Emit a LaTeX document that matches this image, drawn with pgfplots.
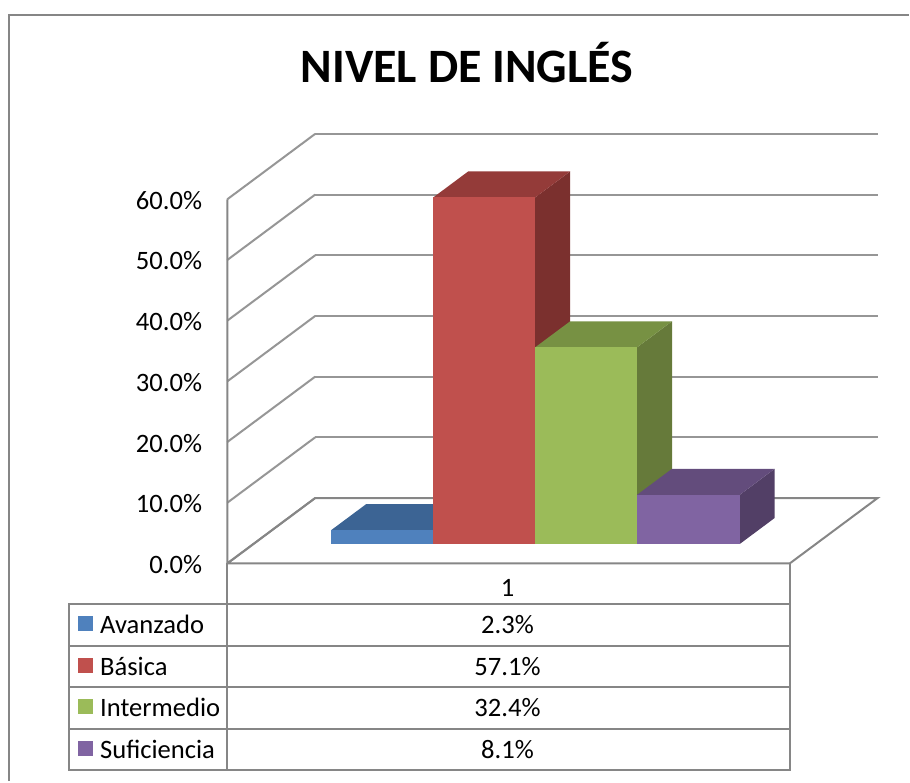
\documentclass[border=0pt]{standalone}
\usepackage{fontspec}
\setmainfont{Carlito}
\usepackage{pgfplots}
\pgfplotsset{compat=1.18}

\definecolor{frameline}{HTML}{868686}
\definecolor{gridline}{HTML}{969696}
\definecolor{azul}{HTML}{4F81BD}
\definecolor{azultop}{HTML}{3C6494}
\definecolor{azulside}{HTML}{30507A}
\definecolor{rojo}{HTML}{C0504D}
\definecolor{rojotop}{HTML}{943B39}
\definecolor{rojoside}{HTML}{7B302E}
\definecolor{verde}{HTML}{9BBB59}
\definecolor{verdetop}{HTML}{779143}
\definecolor{verdeside}{HTML}{667A3A}
\definecolor{morado}{HTML}{8064A2}
\definecolor{moradotop}{HTML}{634C7C}
\definecolor{moradoside}{HTML}{523F66}

\begin{document}
\begin{tikzpicture}
\begin{scope}[x=1pt,y=-1pt]
  \path[use as bounding box] (0,0) rectangle (910,782);
\end{scope}

\begin{axis}[
    at={(227.5pt,-564pt)},
    anchor=origin,
    disabledatascaling,
    x={(1pt,0pt)},
    y={(88pt,65.5pt)},
    z={(0pt,6.075pt)},
    xmin=0, xmax=563,
    ymin=0, ymax=1,
    zmin=0, zmax=60,
    xtick=\empty,
    ytick=\empty,
    ztick={0,10,20,30,40,50,60},
    zticklabel={\pgfmathprintnumber[fixed,fixed zerofill,precision=1,assume math mode=true]{\tick}\%},
    z tick label style={font=\fontsize{26.6}{29}\selectfont,anchor=east,inner sep=0pt,xshift=-25pt,yshift=-1pt},
    major tick length=0pt,
    zmajorgrids=true,
    grid style={gridline,line width=2pt},
    axis line style={draw=none},
    clip=false,
]
  % floor and front wall edges, the back wall has no upright edge
  \addplot3[frameline,line width=2pt] coordinates {(0,0,60) (0,0,0) (563,0,0) (563,1,0) (0,1,0) (0,0,0)};

  % Avanzado 2.3
  \addplot3[fill=azulside,draw=none] coordinates {(180,0.298,0) (180,0.695,0) (180,0.695,2.3) (180,0.298,2.3)} -- cycle;
  \addplot3[fill=azultop,draw=none] coordinates {(78,0.298,2.3) (180,0.298,2.3) (180,0.695,2.3) (78,0.695,2.3)} -- cycle;
  \addplot3[fill=azul,draw=none] coordinates {(78,0.298,0) (180,0.298,0) (180,0.298,2.3) (78,0.298,2.3)} -- cycle;

  % Basica 57.1
  \addplot3[fill=rojoside,draw=none] coordinates {(282,0.298,0) (282,0.695,0) (282,0.695,57.1) (282,0.298,57.1)} -- cycle;
  \addplot3[fill=rojotop,draw=none] coordinates {(180,0.298,57.1) (282,0.298,57.1) (282,0.695,57.1) (180,0.695,57.1)} -- cycle;
  \addplot3[fill=rojo,draw=none] coordinates {(180,0.298,0) (282,0.298,0) (282,0.298,57.1) (180,0.298,57.1)} -- cycle;

  % Intermedio 32.4
  \addplot3[fill=verdeside,draw=none] coordinates {(384,0.298,0) (384,0.695,0) (384,0.695,32.4) (384,0.298,32.4)} -- cycle;
  \addplot3[fill=verdetop,draw=none] coordinates {(282,0.298,32.4) (384,0.298,32.4) (384,0.695,32.4) (282,0.695,32.4)} -- cycle;
  \addplot3[fill=verde,draw=none] coordinates {(282,0.298,0) (384,0.298,0) (384,0.298,32.4) (282,0.298,32.4)} -- cycle;

  % Suficiencia 8.1
  \addplot3[fill=moradoside,draw=none] coordinates {(486.8,0.298,0) (486.8,0.695,0) (486.8,0.695,8.1) (486.8,0.298,8.1)} -- cycle;
  \addplot3[fill=moradotop,draw=none] coordinates {(384,0.298,8.1) (486.8,0.298,8.1) (486.8,0.695,8.1) (384,0.695,8.1)} -- cycle;
  \addplot3[fill=morado,draw=none] coordinates {(384,0.298,0) (486.8,0.298,0) (486.8,0.298,8.1) (384,0.298,8.1)} -- cycle;
\end{axis}

\begin{scope}[x=1pt,y=-1pt]
  % chart area edge, only top and left are inside the crop
  \draw[frameline,line width=1.8pt] (9,782) -- (9,15) -- (910,15);
  \node[font=\fontsize{48}{52}\selectfont\bfseries] at (467.5,63) {NIVEL DE INGLÉS};

  % data table
  \draw[frameline,line width=2pt] (227.5,564) -- (227.5,771);
  \draw[frameline,line width=2pt] (790.5,564) -- (790.5,771) -- (69.5,771) -- (69.5,605) -- (790.5,605);
  \draw[frameline,line width=2pt] (69.5,646.5) -- (790.5,646.5);
  \draw[frameline,line width=2pt] (69.5,688) -- (790.5,688);
  \draw[frameline,line width=2pt] (69.5,729.5) -- (790.5,729.5);

  \fill[azul] (78,617) rectangle (93,632);
  \fill[rojo] (78,659) rectangle (93,674);
  \fill[verde] (78,700) rectangle (93,715);
  \fill[morado] (78,742) rectangle (93,757);

  \begin{scope}[every node/.style={font=\fontsize{26.6}{29}\selectfont,inner sep=0pt}]
    \node[anchor=base west] at (100,634) {Avanzado};
    \node[anchor=base west] at (100,676) {Básica};
    \node[anchor=base west] at (100,717) {Intermedio};
    \node[anchor=base west] at (100,759) {Suficiencia};
    \node[anchor=base] at (508,597) {1};
    \node[anchor=base] at (508,634) {2.3\%};
    \node[anchor=base] at (508,676) {57.1\%};
    \node[anchor=base] at (508,717) {32.4\%};
    \node[anchor=base] at (508,759) {8.1\%};
  \end{scope}
\end{scope}
\end{tikzpicture}
\end{document}
